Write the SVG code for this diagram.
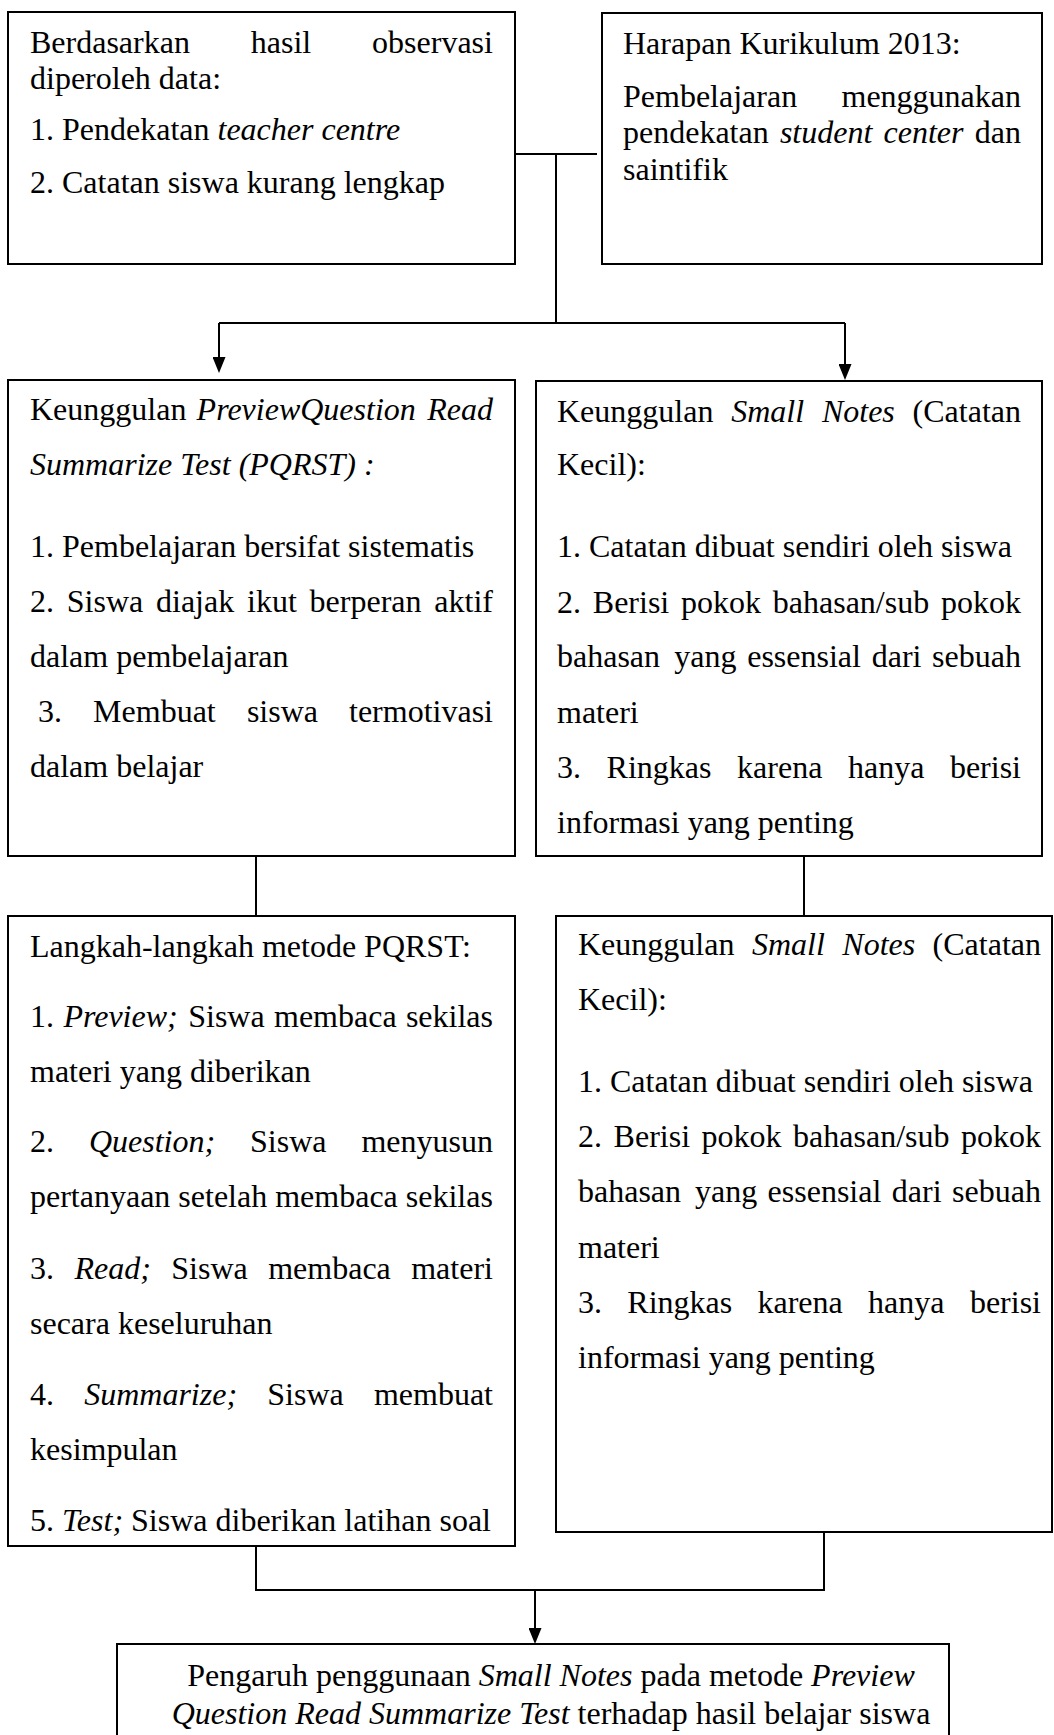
<svg xmlns="http://www.w3.org/2000/svg" width="1054" height="1735" viewBox="0 0 1054 1735">
<style>
.box{fill:#fff;stroke:#000;stroke-width:2}
.t{font-family:"Liberation Serif","Times New Roman",serif;font-size:32px;fill:#000}
.i{font-style:italic}
.c{fill:none;stroke:#000;stroke-width:2}
</style>
<defs>
<marker id="arr" markerUnits="userSpaceOnUse" viewBox="0 0 16 13" refX="8" refY="6.5" markerWidth="16" markerHeight="13" orient="auto">
<path d="M0,0 L16,6.5 L0,13 z" fill="#000"/>
</marker>
</defs>
<rect width="1054" height="1735" fill="#fff"/>
<g id="connectors">
<path class="c" d="M515,154 H597"/>
<path class="c" d="M556,154 V323"/>
<path class="c" d="M219,323 H845"/>
<path class="c" d="M219,323 V365" marker-end="url(#arr)"/>
<path class="c" d="M845,323 V372" marker-end="url(#arr)"/>
<path class="c" d="M256,856 V916"/>
<path class="c" d="M804,856 V916"/>
<path class="c" d="M256,1546 V1590 H824 V1532"/>
<path class="c" d="M535,1590 V1636" marker-end="url(#arr)"/>
</g>
<g id="box1">
<rect class="box" x="8" y="12" width="507" height="252"/>
<text class="t" y="53"><tspan x="30">Berdasarkan</tspan><tspan x="250.8">hasil</tspan><tspan x="372.1">observasi</tspan></text>
<text class="t" x="30" y="89">diperoleh data:</text>
<text class="t" x="30" y="140">1. Pendekatan <tspan class="i">teacher centre</tspan></text>
<text class="t" x="30" y="193">2. Catatan siswa kurang lengkap</text>
</g>
<g id="box2">
<rect class="box" x="602" y="13" width="440" height="251"/>
<text class="t" x="623" y="54">Harapan Kurikulum 2013:</text>
<text class="t" y="107"><tspan x="623">Pembelajaran</tspan><tspan x="841.5">menggunakan</tspan></text>
<text class="t" y="143"><tspan x="623">pendekatan</tspan><tspan class="i" x="779.9">student</tspan><tspan class="i" x="883.5">center</tspan><tspan x="974.8">dan</tspan></text>
<text class="t" x="623" y="180">saintifik</text>
</g>
<g id="box3">
<rect class="box" x="8" y="380" width="507" height="476"/>
<text class="t" y="420"><tspan x="30">Keunggulan</tspan><tspan class="i" x="196.6">PreviewQuestion</tspan><tspan class="i" x="427.2">Read</tspan></text>
<text class="t i" x="30" y="475">Summarize Test (PQRST) :</text>
<text class="t" x="30" y="557">1. Pembelajaran bersifat sistematis</text>
<text class="t" y="612"><tspan x="30">2.</tspan><tspan x="66.8">Siswa</tspan><tspan x="156">diajak</tspan><tspan x="247">ikut</tspan><tspan x="309.6">berperan</tspan><tspan x="434.3">aktif</tspan></text>
<text class="t" x="30" y="667">dalam pembelajaran</text>
<text class="t" y="722"><tspan x="38">3.</tspan><tspan x="93.1">Membuat</tspan><tspan x="246.9">siswa</tspan><tspan x="349">termotivasi</tspan></text>
<text class="t" x="30" y="777">dalam belajar</text>
</g>
<g id="box4">
<rect class="box" x="536" y="381" width="506" height="475"/>
<text class="t" y="422"><tspan x="557">Keunggulan</tspan><tspan class="i" x="731.2">Small</tspan><tspan class="i" x="821.9">Notes</tspan><tspan x="912.6">(Catatan</tspan></text>
<text class="t" x="557" y="475">Kecil):</text>
<text class="t" x="557" y="557">1. Catatan dibuat sendiri oleh siswa</text>
<text class="t" y="613"><tspan x="557">2.</tspan><tspan x="592.8">Berisi</tspan><tspan x="681">pokok</tspan><tspan x="772.8">bahasan/sub</tspan><tspan x="941">pokok</tspan></text>
<text class="t" y="667"><tspan x="557">bahasan</tspan><tspan x="674.3">yang</tspan><tspan x="747.2">essensial</tspan><tspan x="871.7">dari</tspan><tspan x="932.1">sebuah</tspan></text>
<text class="t" x="557" y="723">materi</text>
<text class="t" y="778"><tspan x="557">3.</tspan><tspan x="606.6">Ringkas</tspan><tspan x="737.1">karena</tspan><tspan x="848">hanya</tspan><tspan x="949.9">berisi</tspan></text>
<text class="t" x="557" y="833">informasi yang penting</text>
</g>
<g id="box5">
<rect class="box" x="8" y="916" width="507" height="630"/>
<text class="t" x="30" y="957">Langkah-langkah metode PQRST:</text>
<text class="t" y="1027"><tspan x="30">1.</tspan><tspan class="i" x="63.4">Preview;</tspan><tspan x="188.2">Siswa</tspan><tspan x="274">membaca</tspan><tspan x="405.9">sekilas</tspan></text>
<text class="t" x="30" y="1082">materi yang diberikan</text>
<text class="t" y="1152"><tspan x="30">2.</tspan><tspan class="i" x="88.9">Question;</tspan><tspan x="250">Siswa</tspan><tspan x="361.4">menyusun</tspan></text>
<text class="t" x="30" y="1207">pertanyaan setelah membaca sekilas</text>
<text class="t" y="1279"><tspan x="30">3.</tspan><tspan class="i" x="74.5">Read;</tspan><tspan x="171.3">Siswa</tspan><tspan x="268.2">membaca</tspan><tspan x="411.2">materi</tspan></text>
<text class="t" x="30" y="1334">secara keseluruhan</text>
<text class="t" y="1405"><tspan x="30">4.</tspan><tspan class="i" x="84.2">Summarize;</tspan><tspan x="267.3">Siswa</tspan><tspan x="373.9">membuat</tspan></text>
<text class="t" x="30" y="1460">kesimpulan</text>
<text class="t" x="30" y="1531">5. <tspan class="i">Test;</tspan> Siswa diberikan latihan soal</text>
</g>
<g id="box6">
<rect class="box" x="556" y="916" width="496" height="616"/>
<text class="t" y="955"><tspan x="578">Keunggulan</tspan><tspan class="i" x="751.9">Small</tspan><tspan class="i" x="842.3">Notes</tspan><tspan x="932.6">(Catatan</tspan></text>
<text class="t" x="578" y="1010">Kecil):</text>
<text class="t" x="578" y="1092">1. Catatan dibuat sendiri oleh siswa</text>
<text class="t" y="1147"><tspan x="578">2.</tspan><tspan x="613.6">Berisi</tspan><tspan x="701.5">pokok</tspan><tspan x="793.1">bahasan/sub</tspan><tspan x="961">pokok</tspan></text>
<text class="t" y="1202"><tspan x="578">bahasan</tspan><tspan x="695">yang</tspan><tspan x="767.6">essensial</tspan><tspan x="891.8">dari</tspan><tspan x="952.1">sebuah</tspan></text>
<text class="t" x="578" y="1258">materi</text>
<text class="t" y="1313"><tspan x="578">3.</tspan><tspan x="627.3">Ringkas</tspan><tspan x="757.5">karena</tspan><tspan x="868.1">hanya</tspan><tspan x="969.9">berisi</tspan></text>
<text class="t" x="578" y="1368">informasi yang penting</text>
</g>
<g id="box7">
<rect class="box" x="117" y="1644" width="832" height="110"/>
<text class="t" x="551" y="1686" text-anchor="middle">Pengaruh penggunaan <tspan class="i">Small Notes</tspan> pada metode <tspan class="i">Preview</tspan></text>
<text class="t" x="551" y="1724" text-anchor="middle"><tspan class="i">Question Read Summarize Test</tspan> terhadap hasil belajar siswa</text>
</g>
</svg>
